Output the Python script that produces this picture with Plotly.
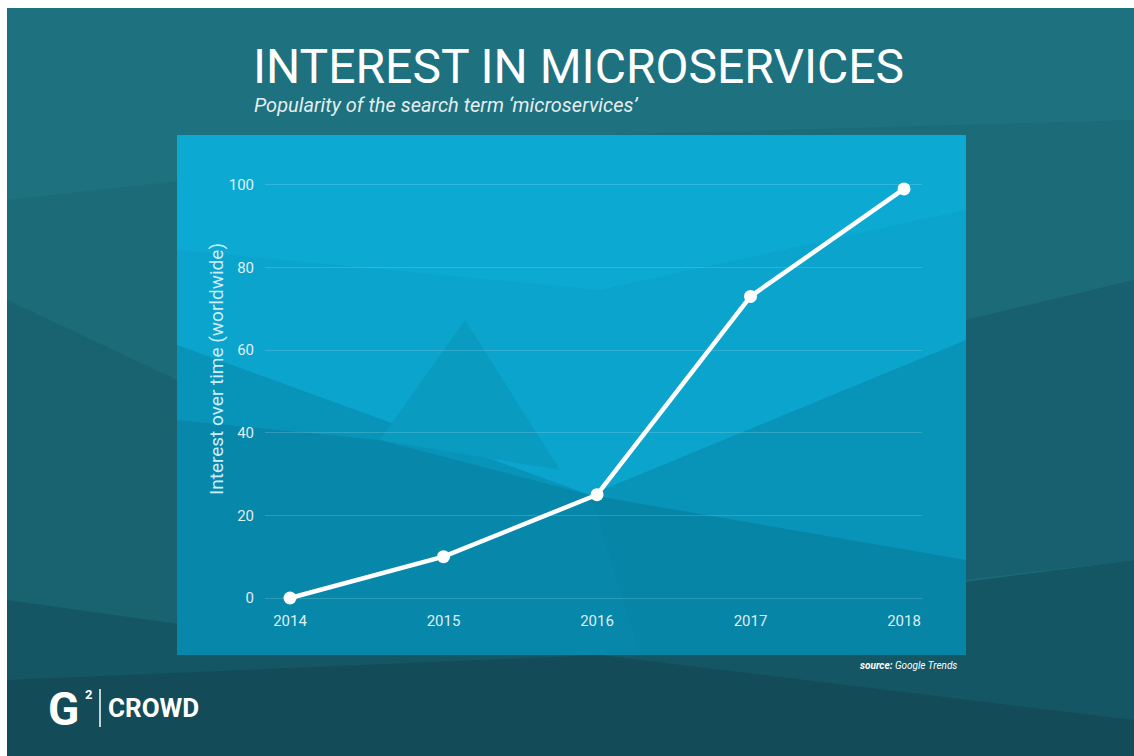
import plotly.graph_objects as go

# ---- data ----
years = ["2014", "2015", "2016", "2017", "2018"]
interest = [0, 10, 25, 73, 99]
y_ticks = [0, 20, 40, 60, 80, 100]

W, H = 1134, 756
L, R, T, B = 265, 922, 165, 610  # plot area in pixels


def px(x):
    return (x - L) / (R - L)


def py(y):
    return (B - y) / (B - T)


def poly(points, color):
    d = "M " + " L ".join(f"{px(x):.5f},{py(y):.5f}" for x, y in points) + " Z"
    return dict(type="path", xref="paper", yref="paper", path=d,
                fillcolor=color, line=dict(width=0), layer="below")


shapes = []
# outer background
shapes.append(poly([(7, 8), (1134, 8), (1134, 756), (7, 756)], "#1b6b78"))
shapes.append(poly([(7, 8), (1134, 8), (1134, 120), (600, 135), (7, 200)], "#1e727f"))
shapes.append(poly([(7, 300), (177, 380), (177, 655), (7, 640)], "#19626f"))
shapes.append(poly([(7, 600), (400, 655), (1134, 560), (1134, 756), (7, 756)], "#155664"))
shapes.append(poly([(7, 680), (600, 655), (1134, 720), (1134, 756), (7, 756)], "#134c58"))
shapes.append(poly([(966, 320), (1134, 280), (1134, 560), (966, 580)], "#186070"))
# panel
shapes.append(poly([(177, 135), (966, 135), (966, 655), (177, 655)], "#0aa4cd"))
shapes.append(poly([(177, 135), (966, 135), (966, 210), (600, 290), (177, 250)], "#0ca9d3"))
shapes.append(poly([(177, 345), (590, 495), (966, 340), (966, 655), (177, 655)], "#0894b9"))
shapes.append(poly([(177, 420), (380, 440), (590, 495), (640, 655), (177, 655)], "#0788aa"))
shapes.append(poly([(380, 440), (465, 320), (560, 470)], "#0a9bc1"))
shapes.append(poly([(590, 495), (966, 560), (966, 655), (640, 655)], "#0785a6"))
# logo bar
shapes.append(dict(type="line", xref="paper", yref="paper",
                   x0=px(100), x1=px(100), y0=py(689), y1=py(727),
                   line=dict(color="white", width=1.5)))

fig = go.Figure()
fig.add_trace(go.Scatter(
    x=years, y=interest, mode="lines+markers",
    line=dict(color="white", width=4.5),
    marker=dict(color="white", size=13),
    hoverinfo="x+y", showlegend=False,
))


def note(text, x, y, xanchor, font, angle=0):
    return dict(text=text, xref="paper", yref="paper", x=px(x), y=py(y),
                xanchor=xanchor, yanchor="middle", textangle=angle,
                font=font, showarrow=False)


ann = [
    note("Popularity of the search term \u2018microservices\u2019", 252, 105, "left",
         dict(family="Roboto", size=20, color="rgba(255,255,255,0.9)", style="italic")),
    note("Interest over time (worldwide)", 216, 369, "center",
         dict(family="Roboto", size=19, color="#cdeef8"), angle=-90),
    note("<b><i>source:</i></b><i> Google Trends</i>", 959, 665, "right",
         dict(family="Roboto", size=10, color="white")),
    note("<b>G</b>", 46, 709, "left", dict(family="Roboto", size=46, color="white")),
    note("<b>2</b>", 83, 694, "left", dict(family="Roboto", size=13, color="white")),
    note("<b>CROWD</b>", 106, 708, "left", dict(family="Roboto", size=26, color="white")),
]

fig.update_layout(
    width=W, height=H,
    margin=dict(l=L, r=W - R, t=T, b=H - B),
    paper_bgcolor="white",
    plot_bgcolor="rgba(0,0,0,0)",
    title=dict(text="INTEREST IN MICROSERVICES", x=253 / W, xanchor="left",
               y=1 - 66 / H, yanchor="middle",
               font=dict(family="Roboto", size=48, color="white")),
    xaxis=dict(type="category", range=[-0.163, 4.117], showgrid=False,
               zeroline=False, showline=False, ticks="",
               tickfont=dict(family="Roboto", size=15, color="rgba(255,255,255,0.88)"),
               fixedrange=True),
    yaxis=dict(range=[-2.9, 104.8], tickvals=y_ticks, showgrid=True,
               gridcolor="rgba(255,255,255,0.16)", gridwidth=1,
               zeroline=False, showline=False, ticks="",
               tickfont=dict(family="Roboto", size=15, color="rgba(255,255,255,0.88)"),
               ticklabelstandoff=10, fixedrange=True),
    shapes=shapes,
    annotations=ann,
)

fig.write_html("out.html")
